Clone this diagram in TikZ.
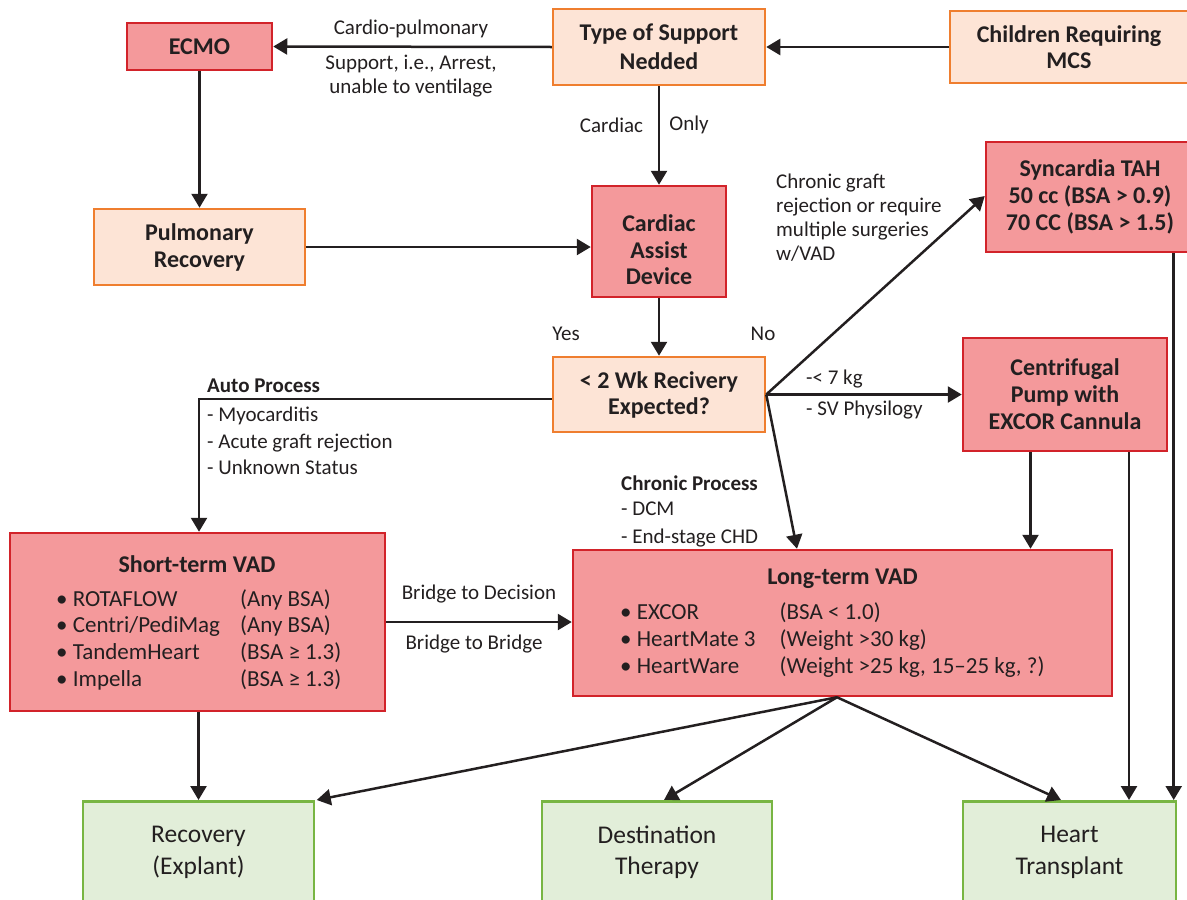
\documentclass[tikz,border=0pt]{standalone}
\usepackage{fontspec}
\setmainfont{Carlito}
\usetikzlibrary{arrows.meta,calc}
\definecolor{pinkF}{HTML}{F4999B}
\definecolor{redB}{HTML}{D2232A}
\definecolor{peachF}{HTML}{FDE4D6}
\definecolor{orB}{HTML}{EF7E2F}
\definecolor{grF}{HTML}{E2EED9}
\definecolor{grB}{HTML}{78B543}
\definecolor{ink}{HTML}{231F20}
\newcommand{\titlefnt}{\fontsize{24}{27}\selectfont\bfseries}
\newcommand{\labfnt}{\fontsize{21}{24}\selectfont}
\newcommand{\listfnt}{\fontsize{23}{26.7}\selectfont}
\newcommand{\grfnt}{\fontsize{25.5}{31.5}\selectfont}
\begin{document}
\begin{tikzpicture}[x=1pt,y=-1pt,
  base/.style={line width=2.5pt, inner sep=0pt, align=center, text=ink},
  redbox/.style={base, draw=redB, fill=pinkF, font=\titlefnt},
  orbox/.style={base, draw=orB, fill=peachF, font=\titlefnt},
  grbox/.style={base, draw=grB, fill=grF, font=\grfnt},
  lab/.style={inner sep=0pt, text=ink, font=\labfnt},
  blab/.style={inner sep=0pt, text=ink, font=\labfnt\bfseries},
  arr/.style={line width=2.5pt, draw=ink, -{Triangle[length=14pt,width=16pt]}},
  ln/.style={line width=2.5pt, draw=ink}
]
\useasboundingbox (0,0) rectangle (1187,900);
% boxes
\node[redbox, minimum width=145pt, minimum height=47pt] (ecmo) at (199.5,46.5) {ECMO};
\node[orbox, minimum width=212pt, minimum height=76pt, font=\fontsize{24}{29}\selectfont\bfseries] (type) at (659,47) {Type of Support\\Nedded};
\node[orbox, minimum width=238pt, minimum height=72pt, font=\fontsize{24}{26}\selectfont\bfseries] (child) at (1069,47) {Children Requiring\\MCS};
\node[orbox, minimum width=211pt, minimum height=76pt] (pulm) at (199.5,247) {Pulmonary\\Recovery};
\node[redbox, minimum width=134pt, minimum height=111pt] (cad) at (659,241.5) {};
\node[blab, font=\fontsize{24}{26.5}\selectfont\bfseries, align=center] (cadt) at (659,250) {Cardiac\\Assist\\Device};
\node[redbox, minimum width=208pt, minimum height=110pt] (syn) at (1090,197) {Syncardia TAH\\50 cc (BSA > 0.9)\\70 CC (BSA > 1.5)};
\node[orbox, minimum width=212pt, minimum height=75pt, font=\fontsize{24}{26}\selectfont\bfseries] (wk) at (659,394.5) {< 2 Wk Recivery\\Expected?};
\node[redbox, minimum width=204pt, minimum height=113pt] (cent) at (1065,394.5) {Centrifugal\\Pump with\\EXCOR Cannula};
\node[redbox, minimum width=375pt, minimum height=178pt] (st) at (197.5,622) {};
\node[redbox, minimum width=539pt, minimum height=146pt] (lt) at (842.5,623) {};
\node[grbox, minimum width=231pt, minimum height=102pt, anchor=north] (rec) at (198.5,800) {Recovery\\(Explant)};
\node[grbox, minimum width=230pt, minimum height=102pt, anchor=north] (dest) at (657,800) {Destination\\Therapy};
\node[grbox, minimum width=213pt, minimum height=102pt, anchor=north] (heart) at (1069.5,800) {Heart\\Transplant};
% box inner texts
\node[blab, font=\titlefnt] (sttitle) at (197,564) {Short-term VAD};
\node[inner sep=0pt, text=ink, font=\listfnt, anchor=west] (stlist) at (56,641) {%
\begin{tabular}{@{}p{184pt}@{}l@{}}
\textbullet\ ROTAFLOW & (Any BSA)\\
\textbullet\ Centri/PediMag & (Any BSA)\\
\textbullet\ TandemHeart & (BSA ≥ 1.3)\\
\textbullet\ Impella & (BSA ≥ 1.3)
\end{tabular}};
\node[blab, font=\titlefnt] (lttitle) at (842.5,579) {Long-term VAD};
\node[inner sep=0pt, text=ink, font=\fontsize{23}{27}\selectfont, anchor=west] (ltlist) at (620,641) {%
\begin{tabular}{@{}p{159.5pt}@{}l@{}}
\textbullet\ EXCOR & (BSA < 1.0)\\
\textbullet\ HeartMate 3 & (Weight >30 kg)\\
\textbullet\ HeartWare & (Weight >25 kg, 15–25 kg, ?)
\end{tabular}};
% labels
\node[lab] (l1) at (411,29) {Cardio-pulmonary};
\node[lab, align=center] (l2) at (411,76) {Support, i.e., Arrest,\\unable to ventilage};
\node[lab] (l3) at (611.5,125) {Cardiac};
\node[lab] (l4) at (689,125) {Only};
\node[lab] (yes) at (566,334) {Yes};
\node[lab] (no) at (763,334) {No};
\node[lab, align=left, anchor=west] (l5) at (776,218) {Chronic graft\\rejection or require\\multiple surgeries\\w/VAD};
\node[lab, anchor=west] (l6) at (806,379) {-< 7 kg};
\node[lab, anchor=west] (l7) at (806,410) {- SV Physilogy};
\node[blab, anchor=west] (auto) at (207,386) {Auto Process};
\node[lab, align=left, anchor=west, font=\fontsize{21}{26.5}\selectfont] (autol) at (207,441) {- Myocarditis\\- Acute graft rejection\\- Unknown Status};
\node[blab, anchor=west] (chron) at (621,483) {Chronic Process};
\node[lab, align=left, anchor=west, font=\fontsize{21}{28}\selectfont] (chronl) at (621,524) {- DCM\\- End-stage CHD};
\node[lab] (b1) at (479,594) {Bridge to Decision};
\node[lab] (b2) at (474,644) {Bridge to Bridge};
% connectors
\draw[arr] (child.west) -- (type.east);
\draw[arr] (type.west) -- (ecmo.east);
\draw[arr] (type.south) -- (cad.north);
\draw[arr] (ecmo.south) -- (pulm.north);
\draw[arr] (pulm.east) -- (pulm.east -| cad.west);
\draw[arr] (cad.south) -- (wk.north);
\draw[arr] ([yshift=-4.5pt]wk.west) -| ([xshift=1.5pt]st.north);
\draw[arr] (wk.east) -- ([yshift=1pt]syn.west);
\draw[arr] (wk.east) -- (cent.west);
\draw[arr] (wk.east) -- ([xshift=-45.5pt]lt.north);
\draw[arr] ([xshift=-34.5pt]cent.south) -- ([xshift=-34.5pt]cent.south |- lt.north);
\draw[arr] ([xshift=64pt]cent.south) -- ([xshift=64pt]cent.south |- heart.north);
\draw[arr] ([xshift=83.7pt]syn.south) -- ([xshift=83.7pt]syn.south |- heart.north);
\draw[arr] (st.east) -- (st.east -| lt.west);
\draw[arr] ([xshift=1pt]st.south) -- ([xshift=1pt]st.south |- rec.north);
\coordinate (fan) at ([xshift=-5.5pt]lt.south);
\draw[arr] (fan) -- ([xshift=1.5pt]rec.north east);
\draw[arr] (fan) -- ([xshift=7pt]dest.north);
\draw[arr] (fan) -- ([xshift=-8.5pt]heart.north);
\end{tikzpicture}
\end{document}
